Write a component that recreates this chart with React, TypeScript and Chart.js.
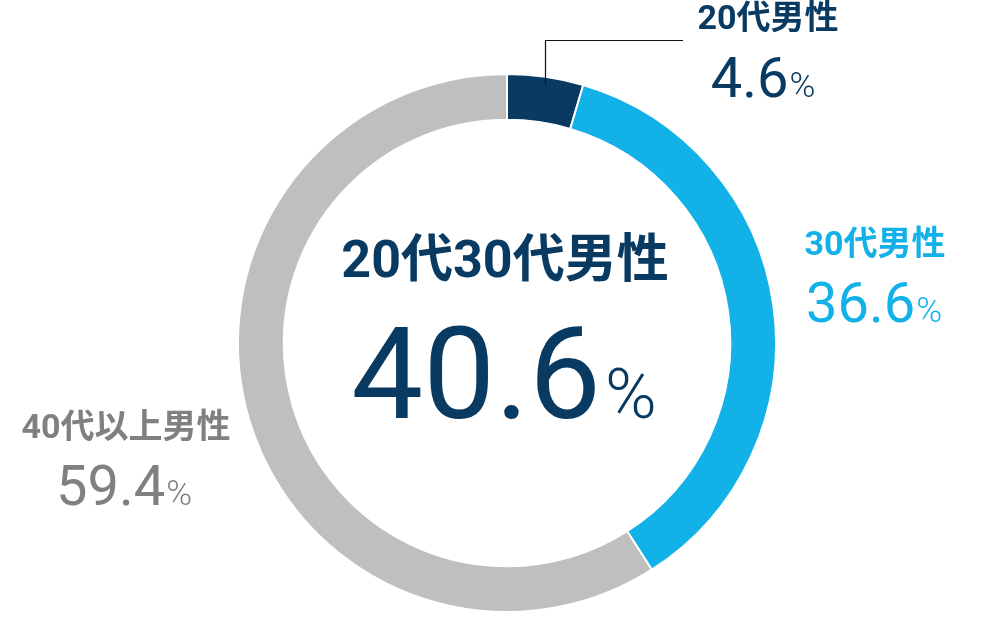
import React, { useEffect, useRef } from "react";
import { Chart, registerables } from "chart.js";

Chart.register(...registerables);

const categories = ["20代男性", "30代男性", "40代以上男性"];
const values = [4.6, 36.6, 59.4];
const valueLabels = ["4.6", "36.6", "59.4"];
const sliceColors = ["#093a62", "#12b1e8", "#bfbfbf"];
const textColors = ["#093a62", "#12b1e8", "#808080"];
const centerTitle = "20代30代男性";
const centerValue = "40.6";

const NAME_FONT = 'bold 34px Roboto, "Noto Sans CJK JP", sans-serif';
const NUM_FONT = '400 56px Roboto, sans-serif';
const PCT_FONT = '300 35px Roboto, sans-serif';

function drawValue(ctx: CanvasRenderingContext2D, text: string, cx: number, baseline: number, color: string, numFont: string, pctFont: string, gap: number) {
  ctx.save();
  ctx.fillStyle = color;
  ctx.textBaseline = "alphabetic";
  ctx.textAlign = "left";
  ctx.font = numFont;
  const wNum = ctx.measureText(text).width;
  ctx.font = pctFont;
  const wPct = ctx.measureText("%").width;
  const total = wNum + gap + wPct;
  const x0 = cx - total / 2;
  ctx.font = numFont;
  ctx.fillText(text, x0, baseline);
  ctx.font = pctFont;
  ctx.fillText("%", x0 + wNum + gap, baseline);
  ctx.restore();
}

function drawName(ctx: CanvasRenderingContext2D, text: string, cx: number, midY: number, color: string, font: string) {
  ctx.save();
  ctx.fillStyle = color;
  ctx.font = font;
  ctx.textAlign = "center";
  ctx.textBaseline = "middle";
  ctx.fillText(text, cx, midY);
  ctx.restore();
}

const labelPlugin = {
  id: "labelPlugin",
  afterDraw(chart: any) {
    const ctx: CanvasRenderingContext2D = chart.ctx;
    const meta = chart.getDatasetMeta(0);
    const arc = meta.data[0];
    const p = arc.getProps(["x", "y", "startAngle", "endAngle", "outerRadius"], true);
    const mid = (p.startAngle + p.endAngle) / 2;
    const px = Math.round(p.x + Math.cos(mid) * (p.outerRadius - 7)) + 0.5;
    const py = p.y + Math.sin(mid) * (p.outerRadius - 7);

    ctx.save();
    ctx.strokeStyle = "#111111";
    ctx.lineWidth = 1.2;
    ctx.beginPath();
    ctx.moveTo(px, py);
    ctx.lineTo(px, 40.5);
    ctx.lineTo(683, 40.5);
    ctx.stroke();
    ctx.restore();

    // 20代男性
    drawName(ctx, categories[0], 768, 20, textColors[0], NAME_FONT);
    drawValue(ctx, valueLabels[0], 763, 97, textColors[0], NUM_FONT, PCT_FONT, 1);
    // 30代男性
    drawName(ctx, categories[1], 875, 246, textColors[1], NAME_FONT);
    drawValue(ctx, valueLabels[1], 874, 322, textColors[1], NUM_FONT, PCT_FONT, 1);
    // 40代以上男性
    drawName(ctx, categories[2], 126, 429, textColors[2], NAME_FONT);
    drawValue(ctx, valueLabels[2], 124, 505, textColors[2], NUM_FONT, PCT_FONT, 1);

    // center
    drawName(ctx, centerTitle, 505, 264, textColors[0], 'bold 52px Roboto, "Noto Sans CJK JP", sans-serif');
    drawValue(ctx, centerValue, 504, 418, textColors[0], '400 128px Roboto, sans-serif', '300 70px Roboto, sans-serif', 4);
  },
};

export default function App() {
  const ref = useRef<HTMLCanvasElement | null>(null);
  useEffect(() => {
    if (!ref.current) return;
    const chart = new Chart(ref.current, {
      type: "doughnut",
      data: {
        labels: categories,
        datasets: [
          {
            data: values,
            backgroundColor: sliceColors,
            borderColor: "#ffffff",
            borderWidth: 2,
            hoverOffset: 0,
          },
        ],
      },
      options: {
        animation: false,
        responsive: false,
        devicePixelRatio: 1,
        cutout: "83%",
        rotation: 0,
        layout: { padding: { top: 73, bottom: 17, left: 237, right: 223 } },
        plugins: {
          legend: { display: false },
          tooltip: { enabled: false },
        },
        events: [],
      },
      plugins: [labelPlugin],
    });
    return () => chart.destroy();
  }, []);
  return (
    <div style={{ position: "absolute", left: 0, top: 0, width: 1000, height: 630, background: "#ffffff" }}>
      <canvas ref={ref} width={1000} height={630} style={{ display: "block" }} />
    </div>
  );
}
